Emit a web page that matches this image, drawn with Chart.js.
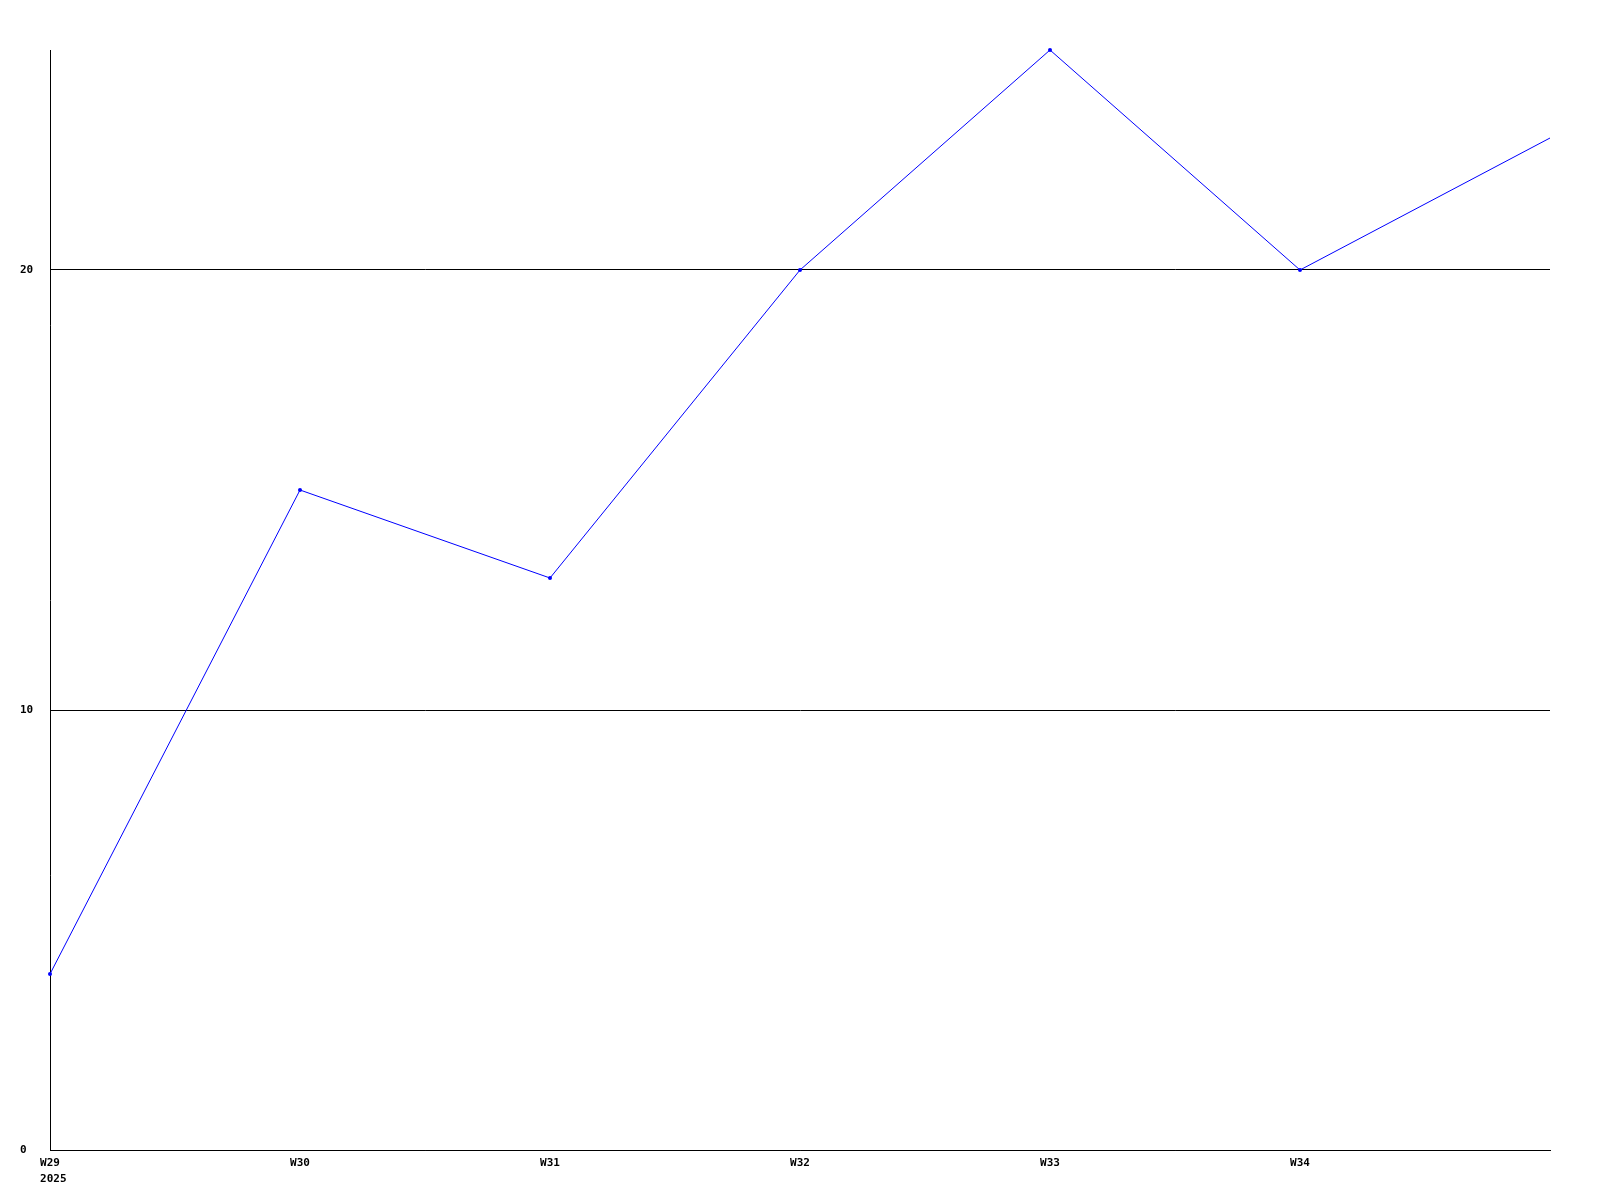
<!DOCTYPE html>
<html>
<head>
<meta charset="utf-8">
<script src="https://cdn.jsdelivr.net/npm/chart.js@4"></script>
<style>
  html, body { margin: 0; padding: 0; background: #fff; }
  #wrap { width: 1600px; height: 1200px; position: relative; }
</style>
</head>
<body>
<div id="wrap"><canvas id="weekChart"></canvas></div>
<script>
// Data
const weeks = ['W29', 'W30', 'W31', 'W32', 'W33', 'W34', 'W35'];
const yearLabel = '2025';
const counts = [4, 15, 13, 20, 25, 20, 23];
const yTicks = [0, 10, 20];
const yMax = 25;

const FONT = { family: "'DejaVu Sans Mono', monospace", size: 11, weight: 'bold', lineHeight: 1.45 };

// white canvas background
const whiteBg = {
    id: 'whiteBg',
    beforeDraw(chart) {
        const c = chart.ctx;
        c.save();
        c.fillStyle = '#ffffff';
        c.fillRect(0, 0, chart.width, chart.height);
        c.restore();
    }
};

const ctx = document.getElementById('weekChart').getContext('2d');
new Chart(ctx, {
    type: 'line',
    data: {
        labels: weeks,
        datasets: [{
            data: counts,
            borderColor: '#0000ff',
            backgroundColor: '#0000ff',
            borderWidth: 1,
            pointRadius: ctx => ctx.dataIndex === counts.length - 1 ? 0 : 2,
            pointBorderWidth: 0,
            tension: 0,
            fill: false,
            clip: false
        }]
    },
    options: {
        responsive: true,
        maintainAspectRatio: false,
        animation: false,
        events: [],
        layout: { padding: { top: 50, right: 50, left: 20, bottom: 0 } },
        plugins: {
            legend: { display: false },
            tooltip: { enabled: false }
        },
        scales: {
            x: {
                type: 'category',
                offset: false,
                grid: { display: false, drawTicks: false },
                border: { display: true, color: '#000', width: 1 },
                afterFit: s => { s.height = 50; },
                ticks: {
                    color: '#000',
                    font: FONT,
                    padding: 5,
                    autoSkip: false,
                    maxRotation: 0,
                    callback: (v, i) => {
                        if (i === weeks.length - 1) return '';
                        // leading space keeps the year flush with the week label
                        return i === 0 ? [weeks[i], ' ' + yearLabel] : weeks[i];
                    }
                }
            },
            y: {
                min: 0,
                max: yMax,
                afterBuildTicks: s => { s.ticks = yTicks.map(v => ({ value: v })); },
                afterFit: s => { s.width = 30; },
                grid: { color: '#000', lineWidth: 1, drawTicks: false },
                border: { display: true, color: '#000', width: 1 },
                ticks: {
                    color: '#000',
                    font: FONT,
                    padding: 0,
                    crossAlign: 'far'
                }
            }
        }
    },
    plugins: [whiteBg]
});
</script>
</body>
</html>
